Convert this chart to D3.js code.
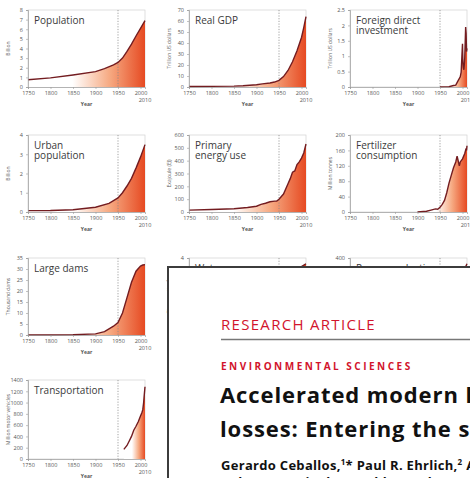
<!DOCTYPE html>
<html>
<head>
<meta charset="utf-8">
<script src="https://cdn.jsdelivr.net/npm/d3@7"></script>
<style>
body { margin: 0; background: #fff; }
svg { display: block; font-family: "Open Sans", "Noto Sans", sans-serif; }
</style>
</head>
<body>
<svg id="chart" width="470" height="478"></svg>
<script>
// data
var popYears = [1750, 1800, 1850, 1900, 1920, 1940, 1950, 1960, 1970, 1980, 1990, 2000, 2010];
var popVals  = [0.75, 0.95, 1.25, 1.6, 1.9, 2.3, 2.55, 3.0, 3.7, 4.45, 5.3, 6.1, 6.9];

var gdpYears = [1750, 1800, 1850, 1870, 1900, 1913, 1930, 1940, 1950, 1960, 1970, 1980, 1990, 2000, 2005, 2010];
var gdpVals  = [0.5, 0.6, 0.8, 1.1, 2, 2.8, 3.6, 4.5, 6, 9.5, 15, 23, 33, 45, 54, 64];

var fdiYears = [1950, 1960, 1970, 1980, 1985, 1990, 1995, 1997, 1999, 2000, 2001, 2002, 2003, 2004, 2005, 2006, 2007, 2008, 2009, 2010];
var fdiVals  = [0, 0.005, 0.01, 0.05, 0.06, 0.2, 0.33, 0.48, 1.1, 1.4, 0.8, 0.62, 0.56, 0.72, 0.95, 1.45, 1.95, 1.75, 1.15, 1.25];

var urbYears = [1750, 1800, 1850, 1900, 1930, 1950, 1960, 1970, 1980, 1990, 2000, 2010];
var urbVals  = [0.07, 0.08, 0.12, 0.25, 0.45, 0.73, 1.0, 1.35, 1.75, 2.28, 2.85, 3.5];

var enYears = [1750, 1800, 1850, 1880, 1900, 1910, 1920, 1930, 1940, 1945, 1950, 1960, 1970, 1975, 1980, 1985, 1990, 1995, 2000, 2005, 2010];
var enVals  = [15, 20, 25, 35, 45, 60, 68, 80, 85, 85, 100, 140, 220, 260, 310, 320, 370, 390, 420, 460, 530];

var fertYears = [1900, 1920, 1930, 1940, 1945, 1950, 1955, 1960, 1965, 1970, 1975, 1980, 1985, 1988, 1990, 1993, 1995, 2000, 2005, 2008, 2009, 2010];
var fertVals  = [0, 2, 5, 8, 7, 12, 20, 30, 50, 75, 95, 115, 130, 145, 135, 120, 130, 138, 152, 165, 160, 172];

var damYears = [1750, 1800, 1850, 1900, 1920, 1940, 1950, 1960, 1970, 1980, 1990, 2000, 2005, 2010];
var damVals  = [0, 0, 0.1, 0.5, 1.5, 4, 5.7, 10, 17, 24, 29, 31.3, 31.8, 32];

var waterYears = [1750, 1800, 1850, 1900, 1930, 1950, 1960, 1970, 1980, 1990, 2000, 2010];
var waterVals  = [0.5, 0.6, 0.8, 0.9, 1.2, 1.4, 1.9, 2.4, 3.0, 3.3, 3.55, 3.7];

var paperYears = [1900, 1920, 1940, 1950, 1960, 1970, 1980, 1990, 2000, 2010];
var paperVals  = [10, 20, 35, 45, 80, 120, 170, 240, 320, 370];

var carYears = [1963, 1970, 1975, 1980, 1985, 1990, 1995, 2000, 2003, 2005, 2007, 2008, 2010];
var carVals  = [170, 240, 320, 400, 510, 580, 660, 760, 820, 870, 1000, 1100, 1280];

var yearTicks = [1750, 1800, 1850, 1900, 1950, 2000];

var svg = d3.select("#chart");

// gradient for the area fill, white on the left going to orange
var defs = svg.append("defs");
var grad = defs.append("linearGradient")
    .attr("id", "fillGrad")
    .attr("x1", 0).attr("x2", 1).attr("y1", 0).attr("y2", 0);
grad.append("stop").attr("offset", "0.38").attr("stop-color", "#ffffff");
grad.append("stop").attr("offset", "0.7").attr("stop-color", "#f6a981");
grad.append("stop").attr("offset", "1").attr("stop-color", "#e64a22");

function panel(left, top, h, title, ylabel, years, vals, ymax, yticks)
{
    var w = 117;
    var g = svg.append("g").attr("transform", "translate(" + left + "," + top + ")");

    var x = d3.scaleLinear().domain([1750, 2010]).range([0, w]);
    var y = d3.scaleLinear().domain([0, ymax]).range([h, 0]);

    var data = years.map(function(d, i) { return {x: d, y: vals[i]}; });

    // light frame
    g.append("rect")
        .attr("width", w).attr("height", h)
        .attr("fill", "none").attr("stroke", "#d2d2d2").attr("stroke-width", 0.7);

    var area = d3.area()
        .x(function(d) { return x(d.x); })
        .y0(h)
        .y1(function(d) { return y(d.y); });
    var line = d3.line()
        .x(function(d) { return x(d.x); })
        .y(function(d) { return y(d.y); });

    g.append("path").datum(data)
        .attr("d", area)
        .attr("fill", "url(#fillGrad)");

    // 1950 marker
    g.append("line")
        .attr("x1", x(1950)).attr("x2", x(1950))
        .attr("y1", 0).attr("y2", h)
        .attr("stroke", "#8a8a8a").attr("stroke-width", 0.8)
        .attr("stroke-dasharray", "1.2,1.5");

    g.append("path").datum(data)
        .attr("d", line)
        .attr("fill", "none")
        .attr("stroke", "#731c20")
        .attr("stroke-width", 1.4);

    var xa = g.append("g")
        .attr("transform", "translate(0," + h + ")")
        .call(d3.axisBottom(x).tickValues(yearTicks).tickFormat(d3.format("d")).tickSize(2).tickPadding(2));
    var ya = g.append("g")
        .call(d3.axisLeft(y).tickValues(yticks).tickSize(2).tickPadding(3)
            .tickFormat(function(d) { return String(d); }));
    [xa, ya].forEach(function(a) {
        a.select(".domain").attr("stroke", "#9a9a9a").attr("stroke-width", 0.7);
        a.selectAll(".tick line").attr("stroke", "#9a9a9a").attr("stroke-width", 0.6);
        a.selectAll("text").attr("fill", "#555").style("font-size", "5.5px")
            .style("font-family", "'Open Sans', sans-serif");
    });

    g.append("text")
        .attr("x", x(2010)).attr("y", h + 15)
        .attr("text-anchor", "middle")
        .attr("fill", "#555").style("font-size", "5.5px")
        .text("2010");

    g.append("text")
        .attr("x", x(1880)).attr("y", h + 19)
        .attr("text-anchor", "middle")
        .attr("fill", "#555").style("font-size", "5px").style("font-weight", "bold")
        .text("Year");

    g.append("text")
        .attr("transform", "translate(-18," + (h / 2) + ") rotate(-90)")
        .attr("text-anchor", "middle")
        .attr("fill", "#666").style("font-size", "5px")
        .text(ylabel);

    var t = g.append("text")
        .attr("x", 6).attr("y", 14)
        .attr("fill", "#3a3a3a").style("font-size", "10px");
    title.forEach(function(s, i) {
        t.append("tspan").attr("x", 6).attr("dy", i == 0 ? 0 : 10).text(s);
    });
}

var cols = [28, 189, 350];
var rows = [10, 135, 258, 380];

panel(cols[0], rows[0], 77, ["Population"], "Billion", popYears, popVals, 8, d3.range(0, 9, 1));
panel(cols[1], rows[0], 77, ["Real GDP"], "Trillion US dollars", gdpYears, gdpVals, 70, d3.range(0, 71, 10));
panel(cols[2], rows[0], 77, ["Foreign direct", "investment"], "Trillion US dollars", fdiYears, fdiVals, 2.5, [0, 0.5, 1, 1.5, 2, 2.5]);

panel(cols[0], rows[1], 77, ["Urban", "population"], "Billion", urbYears, urbVals, 4, [0, 1, 2, 3, 4]);
panel(cols[1], rows[1], 77, ["Primary", "energy use"], "Exajoule (EJ)", enYears, enVals, 600, d3.range(0, 601, 100));
panel(cols[2], rows[1], 77, ["Fertilizer", "consumption"], "Million tonnes", fertYears, fertVals, 200, d3.range(0, 201, 40));

panel(cols[0], rows[2], 77, ["Large dams"], "Thousand dams", damYears, damVals, 35, d3.range(0, 36, 5));
panel(cols[1], rows[2], 77, ["Water use"], "Thousand km\u00b3", waterYears, waterVals, 4, [0, 1, 2, 3, 4]);
panel(cols[2], rows[2], 77, ["Paper production"], "Million tonnes", paperYears, paperVals, 400, d3.range(0, 401, 100));

panel(cols[0], rows[3], 79, ["Transportation"], "Million motor vehicles", carYears, carVals, 1400, d3.range(0, 1401, 200));

// the article page lying over the lower right charts
var page = svg.append("g");
page.append("rect")
    .attr("x", 168).attr("y", 267)
    .attr("width", 340).attr("height", 260)
    .attr("fill", "#fff")
    .attr("stroke", "#3c3c3c").attr("stroke-width", 2);

page.append("text")
    .attr("x", 221).attr("y", 330)
    .attr("fill", "#d2142c")
    .style("font-size", "15px").style("letter-spacing", "1.3px")
    .text("RESEARCH ARTICLE");

page.append("line")
    .attr("x1", 221).attr("x2", 470)
    .attr("y1", 339.5).attr("y2", 339.5)
    .attr("stroke", "#777").attr("stroke-width", 1.6);

page.append("text")
    .attr("x", 221).attr("y", 370)
    .attr("fill", "#d2142c")
    .style("font-size", "10px").style("font-weight", "bold").style("letter-spacing", "2.5px")
    .text("ENVIRONMENTAL SCIENCES");

page.append("text")
    .attr("x", 220).attr("y", 403)
    .attr("fill", "#111")
    .style("font-size", "22px").style("font-weight", "bold").style("letter-spacing", "0.9px")
    .text("Accelerated modern human\u2013induced species");

page.append("text")
    .attr("x", 220).attr("y", 437)
    .attr("fill", "#111")
    .style("font-size", "22px").style("font-weight", "bold").style("letter-spacing", "0.9px")
    .text("losses: Entering the sixth mass extinction");

var au = page.append("text")
    .attr("x", 221).attr("y", 470)
    .attr("fill", "#111")
    .style("font-size", "13px").style("font-weight", "bold").style("letter-spacing", "0.3px");
au.append("tspan").text("Gerardo Ceballos,");
au.append("tspan").attr("dy", -5).style("font-size", "8px").text("1");
au.append("tspan").attr("dy", 5).text("* Paul R. Ehrlich,");
au.append("tspan").attr("dy", -5).style("font-size", "8px").text("2");
au.append("tspan").attr("dy", 5).text(" Anthony D. Barnosky,");

page.append("text")
    .attr("x", 221).attr("y", 487)
    .attr("fill", "#111")
    .style("font-size", "13px").style("font-weight", "bold").style("letter-spacing", "0.3px")
    .text("Robert M. Pringle,5 Todd M. Palmer6");
</script>
</body>
</html>
